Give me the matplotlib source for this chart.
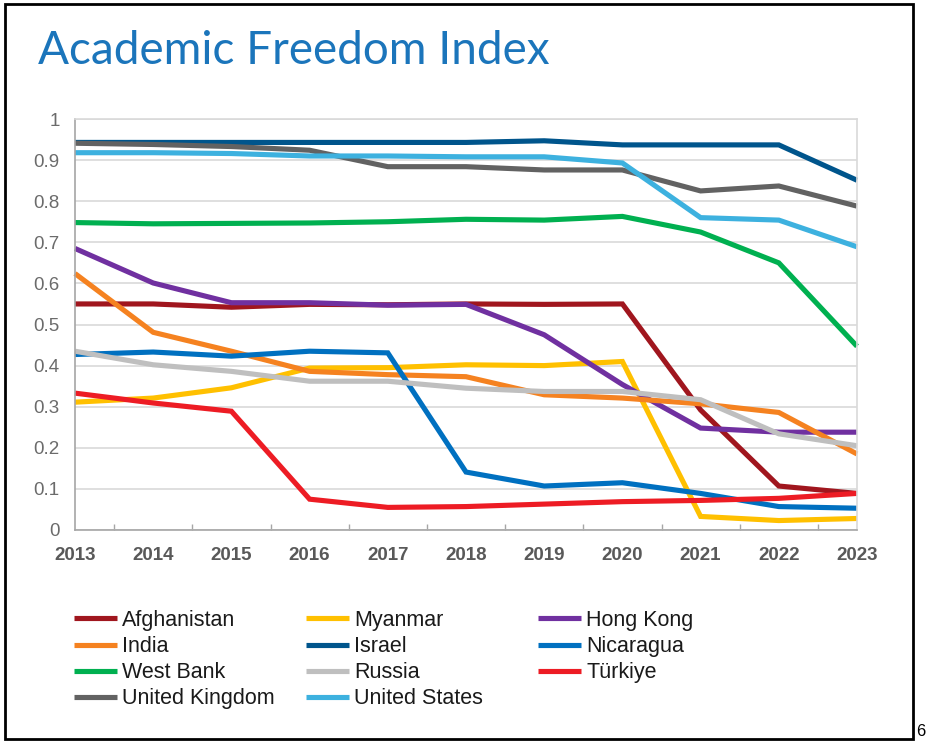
import numpy as np
import matplotlib
matplotlib.use("Agg")
import matplotlib.pyplot as plt
from matplotlib.patches import Rectangle

# values
years = [2013, 2014, 2015, 2016, 2017, 2018, 2019, 2020, 2021, 2022, 2023]
afghanistan = [0.550, 0.550, 0.542, 0.549, 0.548, 0.550, 0.549, 0.550, 0.292, 0.107, 0.089]
myanmar = [0.311, 0.321, 0.346, 0.394, 0.395, 0.402, 0.400, 0.410, 0.033, 0.023, 0.028]
hong_kong = [0.685, 0.601, 0.553, 0.553, 0.547, 0.549, 0.475, 0.354, 0.248, 0.238, 0.238]
india = [0.624, 0.481, 0.435, 0.386, 0.378, 0.373, 0.329, 0.321, 0.307, 0.286, 0.185]
israel = [0.943, 0.943, 0.943, 0.943, 0.943, 0.943, 0.947, 0.937, 0.937, 0.937, 0.851]
nicaragua = [0.427, 0.433, 0.423, 0.435, 0.431, 0.141, 0.107, 0.115, 0.089, 0.057, 0.053]
west_bank = [0.748, 0.745, 0.746, 0.747, 0.750, 0.756, 0.754, 0.763, 0.725, 0.650, 0.447]
russia = [0.435, 0.402, 0.386, 0.362, 0.362, 0.345, 0.337, 0.337, 0.317, 0.234, 0.205]
turkiye = [0.333, 0.309, 0.289, 0.075, 0.055, 0.057, 0.063, 0.069, 0.072, 0.077, 0.089]
united_kingdom = [0.941, 0.938, 0.933, 0.924, 0.884, 0.884, 0.876, 0.876, 0.825, 0.837, 0.788]
united_states = [0.918, 0.918, 0.916, 0.910, 0.910, 0.908, 0.908, 0.893, 0.760, 0.754, 0.689]

names = ['Afghanistan', 'Myanmar', 'Hong Kong', 'India', 'Israel', 'Nicaragua',
         'West Bank', 'Russia', 'Türkiye', 'United Kingdom', 'United States']
series = [afghanistan, myanmar, hong_kong, india, israel, nicaragua,
          west_bank, russia, turkiye, united_kingdom, united_states]
colors = ['#A0161E', '#FFC000', '#7030A0', '#F58220', '#00558C', '#0070C0',
          '#00B050', '#BFBFBF', '#ED1C24', '#626262', '#3DB1DF']

y_ticks = [0, 0.1, 0.2, 0.3, 0.4, 0.5, 0.6, 0.7, 0.8, 0.9, 1]
y_labels = ['0', '0.1', '0.2', '0.3', '0.4', '0.5', '0.6', '0.7', '0.8', '0.9', '1']

W, H = 926, 742
fig = plt.figure(figsize=(W / 100, H / 100), dpi=100)
fig.patch.set_facecolor('white')

# axes box in pixel terms: x 75..857, y 119..530
ax = fig.add_axes([75 / W, 1 - 530 / H, (857 - 75) / W, (530 - 119) / H])

lines = []
for vals, name, c in zip(series, names, colors):
    ln, = ax.plot(years, vals, color=c, lw=3.7, label=name,
                  solid_capstyle='butt', solid_joinstyle='miter', clip_on=False)
    lines.append(ln)

ax.set_xlim(2013, 2023)
ax.set_ylim(0, 1)
ax.set_yticks(y_ticks)
ax.set_yticklabels(y_labels)
ax.set_xticks(years)
ax.set_xticklabels([str(y) for y in years])
ax.set_xticks(np.arange(2013.5, 2023, 1), minor=True)

ax.grid(axis='y', color='#D9D9D9', lw=1.2)
ax.set_axisbelow(True)
ax.tick_params(axis='y', length=0, pad=11, labelsize=13.5, labelcolor='#6B6B6B')
ax.tick_params(axis='x', which='major', length=0, pad=12, labelsize=13.5, labelcolor='#595959')
ax.tick_params(axis='x', which='minor', length=4, direction='in', color='#A6A6A6', width=1)
for lab in ax.get_xticklabels():
    lab.set_fontweight('bold')
for lab in ax.get_xticklabels() + ax.get_yticklabels():
    lab.set_family('Liberation Sans')

for side in ['left', 'bottom']:
    ax.spines[side].set_color('#A6A6A6')
    ax.spines[side].set_linewidth(1.2)
for side in ['top', 'right']:
    ax.spines[side].set_color('#D9D9D9')
    ax.spines[side].set_linewidth(1.2)

# title
fig.text(38 / W, 1 - 51 / H, 'Academic Freedom Index', fontsize=33, color='#1B75BB',
         family='Lato', va='center', ha='left')

# legend: three columns, filled row by row like the reference
col_x = [74, 306, 538]
for k in range(3):
    idx = list(range(k, len(lines), 3))
    fig.legend([lines[i] for i in idx], [names[i] for i in idx],
               loc='upper left', bbox_to_anchor=(col_x[k] / W, 1 - 610 / H),
               frameon=False, borderpad=0, borderaxespad=0,
               handlelength=2.0, handletextpad=0.25, labelspacing=0.235,
               prop={'family': 'Liberation Sans', 'size': 15.5}, labelcolor='#1A1A1A')

# outer black frame and the page number at the corner
fig.add_artist(Rectangle((5 / W, 3 / H), 908 / W, 735 / H, transform=fig.transFigure,
                         fill=False, edgecolor='black', lw=2))
fig.text(916 / W, 1 - 731 / H, '6', fontsize=12, family='Liberation Sans',
         va='center', ha='left', color='black')

fig.savefig('out.png', dpi=100)
